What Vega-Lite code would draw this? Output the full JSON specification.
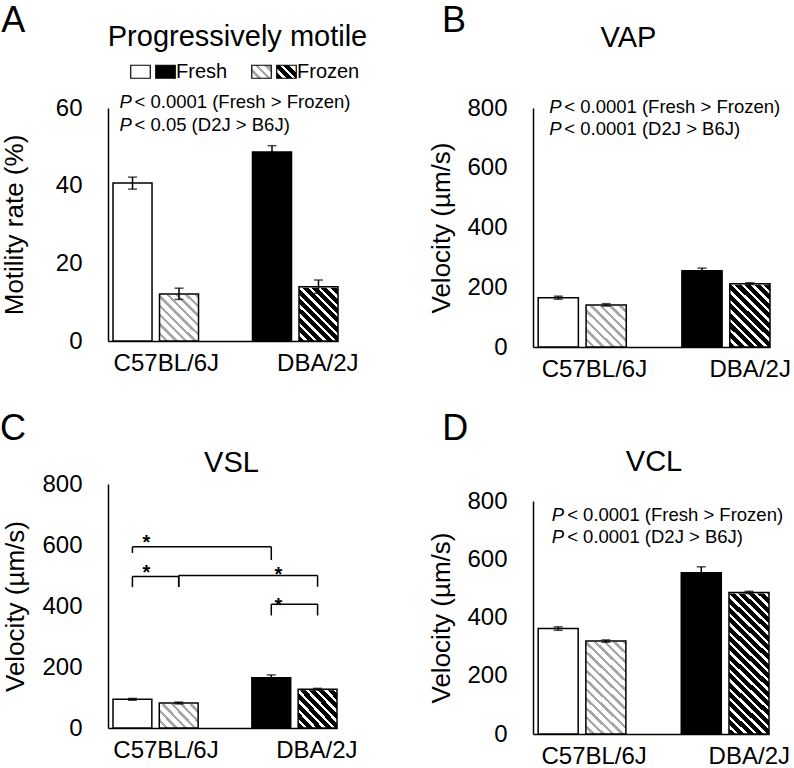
{
  "$schema": "https://vega.github.io/schema/vega-lite/v6.json",
  "padding": {"left": -1, "top": 3, "right": 0, "bottom": 0},
  "params": [
    {"name": "hatchBlack", "value": {"gradient": "linear", "x1": 0, "y1": 1, "x2": 0.13, "y2": 0.22, "stops": [
      {"offset":0,"color":"#000"},{"offset":0.032,"color":"#000"},{"offset":0.032,"color":"#fff"},{"offset":0.05,"color":"#fff"},
      {"offset":0.05,"color":"#000"},{"offset":0.082,"color":"#000"},{"offset":0.082,"color":"#fff"},{"offset":0.1,"color":"#fff"},
      {"offset":0.1,"color":"#000"},{"offset":0.132,"color":"#000"},{"offset":0.132,"color":"#fff"},{"offset":0.15,"color":"#fff"},
      {"offset":0.15,"color":"#000"},{"offset":0.182,"color":"#000"},{"offset":0.182,"color":"#fff"},{"offset":0.2,"color":"#fff"},
      {"offset":0.2,"color":"#000"},{"offset":0.232,"color":"#000"},{"offset":0.232,"color":"#fff"},{"offset":0.25,"color":"#fff"},
      {"offset":0.25,"color":"#000"},{"offset":0.282,"color":"#000"},{"offset":0.282,"color":"#fff"},{"offset":0.3,"color":"#fff"},
      {"offset":0.3,"color":"#000"},{"offset":0.332,"color":"#000"},{"offset":0.332,"color":"#fff"},{"offset":0.35,"color":"#fff"},
      {"offset":0.35,"color":"#000"},{"offset":0.382,"color":"#000"},{"offset":0.382,"color":"#fff"},{"offset":0.4,"color":"#fff"},
      {"offset":0.4,"color":"#000"},{"offset":0.432,"color":"#000"},{"offset":0.432,"color":"#fff"},{"offset":0.45,"color":"#fff"},
      {"offset":0.45,"color":"#000"},{"offset":0.482,"color":"#000"},{"offset":0.482,"color":"#fff"},{"offset":0.5,"color":"#fff"},
      {"offset":0.5,"color":"#000"},{"offset":0.532,"color":"#000"},{"offset":0.532,"color":"#fff"},{"offset":0.55,"color":"#fff"},
      {"offset":0.55,"color":"#000"},{"offset":0.582,"color":"#000"},{"offset":0.582,"color":"#fff"},{"offset":0.6,"color":"#fff"},
      {"offset":0.6,"color":"#000"},{"offset":0.632,"color":"#000"},{"offset":0.632,"color":"#fff"},{"offset":0.65,"color":"#fff"},
      {"offset":0.65,"color":"#000"},{"offset":0.682,"color":"#000"},{"offset":0.682,"color":"#fff"},{"offset":0.7,"color":"#fff"},
      {"offset":0.7,"color":"#000"},{"offset":0.732,"color":"#000"},{"offset":0.732,"color":"#fff"},{"offset":0.75,"color":"#fff"},
      {"offset":0.75,"color":"#000"},{"offset":0.782,"color":"#000"},{"offset":0.782,"color":"#fff"},{"offset":0.8,"color":"#fff"},
      {"offset":0.8,"color":"#000"},{"offset":0.832,"color":"#000"},{"offset":0.832,"color":"#fff"},{"offset":0.85,"color":"#fff"},
      {"offset":0.85,"color":"#000"},{"offset":0.882,"color":"#000"},{"offset":0.882,"color":"#fff"},{"offset":0.9,"color":"#fff"},
      {"offset":0.9,"color":"#000"},{"offset":0.932,"color":"#000"},{"offset":0.932,"color":"#fff"},{"offset":0.95,"color":"#fff"},
      {"offset":0.95,"color":"#000"},{"offset":0.982,"color":"#000"},{"offset":0.982,"color":"#fff"},{"offset":1,"color":"#fff"}
    ]}},
    {"name": "hatchGray", "value": {"gradient": "linear", "x1": 0, "y1": 1, "x2": 0.13, "y2": 0.22, "stops": [
      {"offset":0,"color":"#fff"},{"offset":0.032,"color":"#fff"},{"offset":0.032,"color":"#a8a8a8"},{"offset":0.05,"color":"#a8a8a8"},
      {"offset":0.05,"color":"#fff"},{"offset":0.082,"color":"#fff"},{"offset":0.082,"color":"#a8a8a8"},{"offset":0.1,"color":"#a8a8a8"},
      {"offset":0.1,"color":"#fff"},{"offset":0.132,"color":"#fff"},{"offset":0.132,"color":"#a8a8a8"},{"offset":0.15,"color":"#a8a8a8"},
      {"offset":0.15,"color":"#fff"},{"offset":0.182,"color":"#fff"},{"offset":0.182,"color":"#a8a8a8"},{"offset":0.2,"color":"#a8a8a8"},
      {"offset":0.2,"color":"#fff"},{"offset":0.232,"color":"#fff"},{"offset":0.232,"color":"#a8a8a8"},{"offset":0.25,"color":"#a8a8a8"},
      {"offset":0.25,"color":"#fff"},{"offset":0.282,"color":"#fff"},{"offset":0.282,"color":"#a8a8a8"},{"offset":0.3,"color":"#a8a8a8"},
      {"offset":0.3,"color":"#fff"},{"offset":0.332,"color":"#fff"},{"offset":0.332,"color":"#a8a8a8"},{"offset":0.35,"color":"#a8a8a8"},
      {"offset":0.35,"color":"#fff"},{"offset":0.382,"color":"#fff"},{"offset":0.382,"color":"#a8a8a8"},{"offset":0.4,"color":"#a8a8a8"},
      {"offset":0.4,"color":"#fff"},{"offset":0.432,"color":"#fff"},{"offset":0.432,"color":"#a8a8a8"},{"offset":0.45,"color":"#a8a8a8"},
      {"offset":0.45,"color":"#fff"},{"offset":0.482,"color":"#fff"},{"offset":0.482,"color":"#a8a8a8"},{"offset":0.5,"color":"#a8a8a8"},
      {"offset":0.5,"color":"#fff"},{"offset":0.532,"color":"#fff"},{"offset":0.532,"color":"#a8a8a8"},{"offset":0.55,"color":"#a8a8a8"},
      {"offset":0.55,"color":"#fff"},{"offset":0.582,"color":"#fff"},{"offset":0.582,"color":"#a8a8a8"},{"offset":0.6,"color":"#a8a8a8"},
      {"offset":0.6,"color":"#fff"},{"offset":0.632,"color":"#fff"},{"offset":0.632,"color":"#a8a8a8"},{"offset":0.65,"color":"#a8a8a8"},
      {"offset":0.65,"color":"#fff"},{"offset":0.682,"color":"#fff"},{"offset":0.682,"color":"#a8a8a8"},{"offset":0.7,"color":"#a8a8a8"},
      {"offset":0.7,"color":"#fff"},{"offset":0.732,"color":"#fff"},{"offset":0.732,"color":"#a8a8a8"},{"offset":0.75,"color":"#a8a8a8"},
      {"offset":0.75,"color":"#fff"},{"offset":0.782,"color":"#fff"},{"offset":0.782,"color":"#a8a8a8"},{"offset":0.8,"color":"#a8a8a8"},
      {"offset":0.8,"color":"#fff"},{"offset":0.832,"color":"#fff"},{"offset":0.832,"color":"#a8a8a8"},{"offset":0.85,"color":"#a8a8a8"},
      {"offset":0.85,"color":"#fff"},{"offset":0.882,"color":"#fff"},{"offset":0.882,"color":"#a8a8a8"},{"offset":0.9,"color":"#a8a8a8"},
      {"offset":0.9,"color":"#fff"},{"offset":0.932,"color":"#fff"},{"offset":0.932,"color":"#a8a8a8"},{"offset":0.95,"color":"#a8a8a8"},
      {"offset":0.95,"color":"#fff"},{"offset":0.982,"color":"#fff"},{"offset":0.982,"color":"#a8a8a8"},{"offset":1,"color":"#a8a8a8"}
    ]}},
    {"name": "legBlack", "value": {"gradient": "linear", "x1": 0, "y1": 1, "x2": 1.0123, "y2": 0.3251, "stops": [
      {"offset":0,"color":"#000"},{"offset":0.2133,"color":"#000"},{"offset":0.2133,"color":"#fff"},{"offset":0.3333,"color":"#fff"},
      {"offset":0.3333,"color":"#000"},{"offset":0.5467,"color":"#000"},{"offset":0.5467,"color":"#fff"},{"offset":0.6667,"color":"#fff"},
      {"offset":0.6667,"color":"#000"},{"offset":0.88,"color":"#000"},{"offset":0.88,"color":"#fff"},{"offset":1,"color":"#fff"}
    ]}},
    {"name": "legGray", "value": {"gradient": "linear", "x1": 0, "y1": 1, "x2": 1.0123, "y2": 0.3251, "stops": [
      {"offset":0,"color":"#fff"},{"offset":0.2133,"color":"#fff"},{"offset":0.2133,"color":"#a8a8a8"},{"offset":0.3333,"color":"#a8a8a8"},
      {"offset":0.3333,"color":"#fff"},{"offset":0.5467,"color":"#fff"},{"offset":0.5467,"color":"#a8a8a8"},{"offset":0.6667,"color":"#a8a8a8"},
      {"offset":0.6667,"color":"#fff"},{"offset":0.88,"color":"#fff"},{"offset":0.88,"color":"#a8a8a8"},{"offset":1,"color":"#a8a8a8"}
    ]}}
  ],
  "config": {
    "font": "Liberation Sans",
    "view": {"stroke": null},
    "axis": {"domainColor": "#000", "domainWidth": 1.5, "ticks": false, "grid": false, "labelColor": "#000", "titleColor": "#000", "titleFontWeight": "normal"},
    "axisY": {"labelFontSize": 24, "labelPadding": 26, "titleFontSize": 26},
    "axisX": {"labelFontSize": 24, "labelPadding": 10, "labelAngle": 0},
    "title": {"fontWeight": "normal", "color": "#000", "fontSize": 29}
  },
  "datasets": {
    "A": [
      {"group": "C57BL/6J Fresh", "strain": "C57BL/6J", "cond": "Fresh", "value": 40.7, "lo": 39.1, "hi": 42.2},
      {"group": "C57BL/6J Frozen", "strain": "C57BL/6J", "cond": "Frozen", "value": 12.1, "lo": 10.7, "hi": 13.6},
      {"group": "DBA/2J Fresh", "strain": "DBA/2J", "cond": "Fresh", "value": 48.7, "lo": 47.2, "hi": 50.3},
      {"group": "DBA/2J Frozen", "strain": "DBA/2J", "cond": "Frozen", "value": 14.0, "lo": 12.3, "hi": 15.7}
    ],
    "B": [
      {"group": "C57BL/6J Fresh", "strain": "C57BL/6J", "cond": "Fresh", "value": 165, "lo": 160, "hi": 170},
      {"group": "C57BL/6J Frozen", "strain": "C57BL/6J", "cond": "Frozen", "value": 141, "lo": 137, "hi": 145},
      {"group": "DBA/2J Fresh", "strain": "DBA/2J", "cond": "Fresh", "value": 255, "lo": 246, "hi": 264},
      {"group": "DBA/2J Frozen", "strain": "DBA/2J", "cond": "Frozen", "value": 212, "lo": 209, "hi": 215}
    ],
    "C": [
      {"group": "C57BL/6J Fresh", "strain": "C57BL/6J", "cond": "Fresh", "value": 94, "lo": 91, "hi": 97},
      {"group": "C57BL/6J Frozen", "strain": "C57BL/6J", "cond": "Frozen", "value": 82, "lo": 79, "hi": 85},
      {"group": "DBA/2J Fresh", "strain": "DBA/2J", "cond": "Fresh", "value": 165, "lo": 156, "hi": 174},
      {"group": "DBA/2J Frozen", "strain": "DBA/2J", "cond": "Frozen", "value": 127, "lo": 124, "hi": 130}
    ],
    "D": [
      {"group": "C57BL/6J Fresh", "strain": "C57BL/6J", "cond": "Fresh", "value": 362, "lo": 356, "hi": 368},
      {"group": "C57BL/6J Frozen", "strain": "C57BL/6J", "cond": "Frozen", "value": 319, "lo": 315, "hi": 323},
      {"group": "DBA/2J Fresh", "strain": "DBA/2J", "cond": "Fresh", "value": 554, "lo": 534, "hi": 574},
      {"group": "DBA/2J Frozen", "strain": "DBA/2J", "cond": "Frozen", "value": 486, "lo": 482, "hi": 490}
    ],
    "brC": [
      {"a": "C57BL/6J Fresh", "b": "DBA/2J Fresh", "top": 594, "legA": 574, "legB": 551, "star": "C57BL/6J Fresh", "starY": 587},
      {"a": "C57BL/6J Fresh", "b": "C57BL/6J Frozen", "top": 497, "legA": 462, "legB": 462, "star": "C57BL/6J Fresh", "starY": 487},
      {"a": "C57BL/6J Frozen", "b": "DBA/2J Frozen", "top": 500, "legA": 463, "legB": 463, "star": "DBA/2J Fresh", "starY": 483},
      {"a": "DBA/2J Fresh", "b": "DBA/2J Frozen", "top": 406, "legA": 369, "legB": 369, "star": "DBA/2J Fresh", "starY": 381}
    ]
  },
  "columns": 2,
  "align": "none",
  "spacing": {"row": 30, "column": 60},
  "resolve": {"scale": {"fill": "independent"}, "legend": {"fill": "independent"}},
  "concat": [
    {
      "title": {"text": "A", "anchor": "start", "frame": "bounds", "fontSize": 36, "offset": -17, "dx": 0},
      "resolve": {"scale": {"fill": "independent"}, "legend": {"fill": "independent"}},
      "vconcat": [
        {
          "width": 230, "height": 233,
          "title": {"text": "Progressively motile", "frame": "group", "anchor": "middle", "dx": 14.5, "offset": 9},
          "data": {"name": "A"},
          "layer": [
            {"transform": [{"filter": "datum.cond == 'Frozen' && datum.strain == 'C57BL/6J'"}], "mark": {"type": "bar", "fill": {"expr": "hatchGray"}}, "encoding": {"x": {"field": "group", "type": "nominal"}, "y": {"datum": 60, "type": "quantitative"}, "y2": {"datum": 0}}},
            {"transform": [{"filter": "datum.cond == 'Frozen' && datum.strain == 'DBA/2J'"}], "mark": {"type": "bar", "fill": {"expr": "hatchBlack"}}, "encoding": {"x": {"field": "group", "type": "nominal"}, "y": {"datum": 60, "type": "quantitative"}, "y2": {"datum": 0}}},
            {"transform": [{"filter": "datum.cond == 'Frozen'"}], "mark": {"type": "bar", "fill": "#fff", "stroke": "#fff", "strokeWidth": 2}, "encoding": {"x": {"field": "group", "type": "nominal"}, "y": {"field": "value", "type": "quantitative"}, "y2": {"datum": 60}}},
            {"mark": {"type": "bar", "stroke": "#000", "strokeWidth": 1.5},
             "encoding": {
               "x": {"field": "group", "type": "nominal",
                     "scale": {"type": "band", "domain": ["C57BL/6J Fresh", "C57BL/6J Frozen", "gap", "DBA/2J Fresh", "DBA/2J Frozen"], "paddingInner": 0.161, "paddingOuter": 0.054, "align": 1},
                     "axis": {"title": null, "labelAlign": "right", "labelOffset": 40, "labelExpr": "datum.value == 'C57BL/6J Frozen' ? 'C57BL/6J' : datum.value == 'DBA/2J Frozen' ? 'DBA/2J' : ''"}},
               "y": {"field": "value", "type": "quantitative", "scale": {"domain": [0, 60], "nice": false},
                     "axis": {"title": "Motility rate (%)", "values": [0, 20, 40, 60], "titlePadding": 28}},
               "fill": {"field": "group", "type": "nominal",
                        "scale": {"domain": ["C57BL/6J Fresh", "DBA/2J Fresh", "C57BL/6J Frozen", "DBA/2J Frozen"], "range": ["#fff", "#000", {"expr": "legGray"}, {"expr": "legBlack"}]},
                        "legend": {"title": null, "orient": "none", "legendX": 22, "legendY": -47, "direction": "horizontal", "symbolType": "M-1,-0.667H1V0.667H-1Z", "symbolSize": 380, "symbolStrokeColor": "#000", "symbolStrokeWidth": 1.2, "labelFontSize": 20, "labelOffset": 0, "columnPadding": 0, "padding": 0, "labelColor": "#000",
                                   "labelExpr": "datum.value == 'DBA/2J Fresh' ? 'Fresh' : datum.value == 'DBA/2J Frozen' ? 'Frozen' : ''",
                                   "encode": {
                                     "symbols": {"update": {"shape": {"signal": "datum.value == 'C57BL/6J Frozen' ? 'M1.36,-0.667H3.36V0.667H1.36Z' : 'M-1,-0.667H1V0.667H-1Z'"}}}
                                   }},
                        "condition": {"test": "datum.cond == 'Frozen'", "value": "transparent"}}
             }},
            {"mark": {"type": "rule", "stroke": "#000", "strokeWidth": 1.5}, "encoding": {"x": {"field": "group", "type": "nominal"}, "y": {"field": "lo", "type": "quantitative"}, "y2": {"field": "hi"}}},
            {"mark": {"type": "tick", "color": "#000", "thickness": 1.5, "size": 9, "orient": "horizontal"}, "encoding": {"x": {"field": "group", "type": "nominal"}, "y": {"field": "hi", "type": "quantitative"}}},
            {"mark": {"type": "tick", "color": "#000", "thickness": 1.5, "size": 9, "orient": "horizontal"}, "encoding": {"x": {"field": "group", "type": "nominal"}, "y": {"field": "lo", "type": "quantitative"}}},
            {"data": {"values": [{}]}, "mark": {"type": "text", "text": ["P", "P"], "fontStyle": "italic", "fontSize": 18.5, "align": "left", "baseline": "alphabetic", "lineHeight": 22.7, "dx": -13, "color": "#000"}, "encoding": {"x": {"datum": "C57BL/6J Fresh", "type": "nominal"}, "y": {"datum": 60, "type": "quantitative"}}},
            {"data": {"values": [{}]}, "mark": {"type": "text", "text": ["< 0.0001 (Fresh > Frozen)", "< 0.05 (D2J > B6J)"], "fontSize": 18.5, "align": "left", "baseline": "alphabetic", "lineHeight": 22.7, "dx": 2, "color": "#000"}, "encoding": {"x": {"datum": "C57BL/6J Fresh", "type": "nominal"}, "y": {"datum": 60, "type": "quantitative"}}}
          ]
        }
      ]
    },
    {
      "title": {"text": "B", "anchor": "start", "frame": "bounds", "fontSize": 36, "offset": -16, "dx": 13},
      "resolve": {"scale": {"fill": "independent"}, "legend": {"fill": "independent"}},
      "vconcat": [
        {
          "width": 237, "height": 239,
          "title": {"text": "VAP", "frame": "group", "anchor": "middle", "dx": -23, "offset": 43},
          "data": {"name": "B"},
          "layer": [
            {"transform": [{"filter": "datum.cond == 'Frozen' && datum.strain == 'C57BL/6J'"}], "mark": {"type": "bar", "fill": {"expr": "hatchGray"}}, "encoding": {"x": {"field": "group", "type": "nominal"}, "y": {"datum": 800, "type": "quantitative"}, "y2": {"datum": 0}}},
            {"transform": [{"filter": "datum.cond == 'Frozen' && datum.strain == 'DBA/2J'"}], "mark": {"type": "bar", "fill": {"expr": "hatchBlack"}}, "encoding": {"x": {"field": "group", "type": "nominal"}, "y": {"datum": 800, "type": "quantitative"}, "y2": {"datum": 0}}},
            {"transform": [{"filter": "datum.cond == 'Frozen'"}], "mark": {"type": "bar", "fill": "#fff", "stroke": "#fff", "strokeWidth": 2}, "encoding": {"x": {"field": "group", "type": "nominal"}, "y": {"field": "value", "type": "quantitative"}, "y2": {"datum": 800}}},
            {"mark": {"type": "bar", "stroke": "#000", "strokeWidth": 1.5},
             "encoding": {
               "x": {"field": "group", "type": "nominal",
                     "scale": {"type": "band", "domain": ["C57BL/6J Fresh", "C57BL/6J Frozen", "gap", "DBA/2J Fresh", "DBA/2J Frozen"], "paddingInner": 0.161, "paddingOuter": 0.054, "align": 1},
                     "axis": {"title": null, "labelAlign": "right", "labelOffset": 41, "labelExpr": "datum.value == 'C57BL/6J Frozen' ? 'C57BL/6J' : datum.value == 'DBA/2J Frozen' ? 'DBA/2J' : ''"}},
               "y": {"field": "value", "type": "quantitative", "scale": {"domain": [0, 800], "nice": false},
                     "axis": {"title": "Velocity (µm/s)", "values": [0, 200, 400, 600, 800], "titlePadding": 12}},
               "fill": {"field": "group", "type": "nominal",
                        "scale": {"domain": ["C57BL/6J Fresh", "DBA/2J Fresh", "C57BL/6J Frozen", "DBA/2J Frozen"], "range": ["#fff", "#000", {"expr": "legGray"}, {"expr": "legBlack"}]},
                        "legend": null,
                        "condition": {"test": "datum.cond == 'Frozen'", "value": "transparent"}}
             }},
            {"mark": {"type": "rule", "stroke": "#000", "strokeWidth": 1.5}, "encoding": {"x": {"field": "group", "type": "nominal"}, "y": {"field": "lo", "type": "quantitative"}, "y2": {"field": "hi"}}},
            {"mark": {"type": "tick", "color": "#000", "thickness": 1.5, "size": 9, "orient": "horizontal"}, "encoding": {"x": {"field": "group", "type": "nominal"}, "y": {"field": "hi", "type": "quantitative"}}},
            {"mark": {"type": "tick", "color": "#000", "thickness": 1.5, "size": 9, "orient": "horizontal"}, "encoding": {"x": {"field": "group", "type": "nominal"}, "y": {"field": "lo", "type": "quantitative"}}},
            {"data": {"values": [{}]}, "mark": {"type": "text", "text": ["P", "P"], "fontStyle": "italic", "fontSize": 18.5, "align": "left", "baseline": "alphabetic", "lineHeight": 21.7, "dx": -9, "color": "#000"}, "encoding": {"x": {"datum": "C57BL/6J Fresh", "type": "nominal"}, "y": {"datum": 783, "type": "quantitative"}}},
            {"data": {"values": [{}]}, "mark": {"type": "text", "text": ["< 0.0001 (Fresh > Frozen)", "< 0.0001 (D2J > B6J)"], "fontSize": 18.5, "align": "left", "baseline": "alphabetic", "lineHeight": 21.7, "dx": 6, "color": "#000"}, "encoding": {"x": {"datum": "C57BL/6J Fresh", "type": "nominal"}, "y": {"datum": 783, "type": "quantitative"}}}
          ]
        }
      ]
    },
    {
      "title": {"text": "C", "anchor": "start", "frame": "bounds", "fontSize": 36, "offset": 1, "dx": -3},
      "resolve": {"scale": {"fill": "independent"}, "legend": {"fill": "independent"}},
      "vconcat": [
        {
          "width": 229, "height": 244,
          "title": {"text": "VSL", "frame": "group", "anchor": "middle", "dx": 9, "offset": -6},
          "data": {"name": "C"},
          "layer": [
            {"transform": [{"filter": "datum.cond == 'Frozen' && datum.strain == 'C57BL/6J'"}], "mark": {"type": "bar", "fill": {"expr": "hatchGray"}}, "encoding": {"x": {"field": "group", "type": "nominal"}, "y": {"datum": 800, "type": "quantitative"}, "y2": {"datum": 0}}},
            {"transform": [{"filter": "datum.cond == 'Frozen' && datum.strain == 'DBA/2J'"}], "mark": {"type": "bar", "fill": {"expr": "hatchBlack"}}, "encoding": {"x": {"field": "group", "type": "nominal"}, "y": {"datum": 800, "type": "quantitative"}, "y2": {"datum": 0}}},
            {"transform": [{"filter": "datum.cond == 'Frozen'"}], "mark": {"type": "bar", "fill": "#fff", "stroke": "#fff", "strokeWidth": 2}, "encoding": {"x": {"field": "group", "type": "nominal"}, "y": {"field": "value", "type": "quantitative"}, "y2": {"datum": 800}}},
            {"mark": {"type": "bar", "stroke": "#000", "strokeWidth": 1.5},
             "encoding": {
               "x": {"field": "group", "type": "nominal",
                     "scale": {"type": "band", "domain": ["C57BL/6J Fresh", "C57BL/6J Frozen", "gap", "DBA/2J Fresh", "DBA/2J Frozen"], "paddingInner": 0.161, "paddingOuter": 0.054, "align": 1},
                     "axis": {"title": null, "labelAlign": "right", "labelOffset": 40, "labelExpr": "datum.value == 'C57BL/6J Frozen' ? 'C57BL/6J' : datum.value == 'DBA/2J Frozen' ? 'DBA/2J' : ''"}},
               "y": {"field": "value", "type": "quantitative", "scale": {"domain": [0, 800], "nice": false},
                     "axis": {"title": "Velocity (µm/s)", "values": [0, 200, 400, 600, 800], "titlePadding": 13}},
               "fill": {"field": "group", "type": "nominal",
                        "scale": {"domain": ["C57BL/6J Fresh", "DBA/2J Fresh", "C57BL/6J Frozen", "DBA/2J Frozen"], "range": ["#fff", "#000", {"expr": "legGray"}, {"expr": "legBlack"}]},
                        "legend": null,
                        "condition": {"test": "datum.cond == 'Frozen'", "value": "transparent"}}
             }},
            {"mark": {"type": "rule", "stroke": "#000", "strokeWidth": 1.5}, "encoding": {"x": {"field": "group", "type": "nominal"}, "y": {"field": "lo", "type": "quantitative"}, "y2": {"field": "hi"}}},
            {"mark": {"type": "tick", "color": "#000", "thickness": 1.5, "size": 9, "orient": "horizontal"}, "encoding": {"x": {"field": "group", "type": "nominal"}, "y": {"field": "hi", "type": "quantitative"}}},
            {"mark": {"type": "tick", "color": "#000", "thickness": 1.5, "size": 9, "orient": "horizontal"}, "encoding": {"x": {"field": "group", "type": "nominal"}, "y": {"field": "lo", "type": "quantitative"}}},
            {"data": {"name": "brC"}, "mark": {"type": "rule", "stroke": "#000", "strokeWidth": 1.5}, "encoding": {"x": {"field": "a", "type": "nominal"}, "x2": {"field": "b"}, "y": {"field": "top", "type": "quantitative"}}},
            {"data": {"name": "brC"}, "mark": {"type": "rule", "stroke": "#000", "strokeWidth": 1.5}, "encoding": {"x": {"field": "a", "type": "nominal"}, "y": {"field": "top", "type": "quantitative"}, "y2": {"field": "legA"}}},
            {"data": {"name": "brC"}, "mark": {"type": "rule", "stroke": "#000", "strokeWidth": 1.5}, "encoding": {"x": {"field": "b", "type": "nominal"}, "y": {"field": "top", "type": "quantitative"}, "y2": {"field": "legB"}}},
            {"data": {"name": "brC"}, "transform": [{"filter": "datum.star == 'C57BL/6J Fresh'"}], "mark": {"type": "text", "text": "*", "fontSize": 20, "fontWeight": "bold", "dx": 14, "baseline": "alphabetic", "color": "#000"}, "encoding": {"x": {"field": "star", "type": "nominal"}, "y": {"field": "starY", "type": "quantitative"}}},
            {"data": {"name": "brC"}, "transform": [{"filter": "datum.star == 'DBA/2J Fresh'"}], "mark": {"type": "text", "text": "*", "fontSize": 20, "fontWeight": "bold", "dx": 7, "baseline": "alphabetic", "color": "#000"}, "encoding": {"x": {"field": "star", "type": "nominal"}, "y": {"field": "starY", "type": "quantitative"}}}
          ]
        }
      ]
    },
    {
      "title": {"text": "D", "anchor": "start", "frame": "bounds", "fontSize": 36, "offset": 0, "dx": 14},
      "resolve": {"scale": {"fill": "independent"}, "legend": {"fill": "independent"}},
      "vconcat": [
        {
          "width": 236, "height": 233,
          "title": {"text": "VCL", "frame": "group", "anchor": "middle", "dx": 3, "offset": 12},
          "data": {"name": "D"},
          "layer": [
            {"transform": [{"filter": "datum.cond == 'Frozen' && datum.strain == 'C57BL/6J'"}], "mark": {"type": "bar", "fill": {"expr": "hatchGray"}}, "encoding": {"x": {"field": "group", "type": "nominal"}, "y": {"datum": 800, "type": "quantitative"}, "y2": {"datum": 0}}},
            {"transform": [{"filter": "datum.cond == 'Frozen' && datum.strain == 'DBA/2J'"}], "mark": {"type": "bar", "fill": {"expr": "hatchBlack"}}, "encoding": {"x": {"field": "group", "type": "nominal"}, "y": {"datum": 800, "type": "quantitative"}, "y2": {"datum": 0}}},
            {"transform": [{"filter": "datum.cond == 'Frozen'"}], "mark": {"type": "bar", "fill": "#fff", "stroke": "#fff", "strokeWidth": 2}, "encoding": {"x": {"field": "group", "type": "nominal"}, "y": {"field": "value", "type": "quantitative"}, "y2": {"datum": 800}}},
            {"mark": {"type": "bar", "stroke": "#000", "strokeWidth": 1.5},
             "encoding": {
               "x": {"field": "group", "type": "nominal",
                     "scale": {"type": "band", "domain": ["C57BL/6J Fresh", "C57BL/6J Frozen", "gap", "DBA/2J Fresh", "DBA/2J Frozen"], "paddingInner": 0.161, "paddingOuter": 0.054, "align": 1},
                     "axis": {"title": null, "labelAlign": "right", "labelOffset": 41, "labelExpr": "datum.value == 'C57BL/6J Frozen' ? 'C57BL/6J' : datum.value == 'DBA/2J Frozen' ? 'DBA/2J' : ''"}},
               "y": {"field": "value", "type": "quantitative", "scale": {"domain": [0, 800], "nice": false},
                     "axis": {"title": "Velocity (µm/s)", "values": [0, 200, 400, 600, 800], "titlePadding": 12.8}},
               "fill": {"field": "group", "type": "nominal",
                        "scale": {"domain": ["C57BL/6J Fresh", "DBA/2J Fresh", "C57BL/6J Frozen", "DBA/2J Frozen"], "range": ["#fff", "#000", {"expr": "legGray"}, {"expr": "legBlack"}]},
                        "legend": null,
                        "condition": {"test": "datum.cond == 'Frozen'", "value": "transparent"}}
             }},
            {"mark": {"type": "rule", "stroke": "#000", "strokeWidth": 1.5}, "encoding": {"x": {"field": "group", "type": "nominal"}, "y": {"field": "lo", "type": "quantitative"}, "y2": {"field": "hi"}}},
            {"mark": {"type": "tick", "color": "#000", "thickness": 1.5, "size": 9, "orient": "horizontal"}, "encoding": {"x": {"field": "group", "type": "nominal"}, "y": {"field": "hi", "type": "quantitative"}}},
            {"mark": {"type": "tick", "color": "#000", "thickness": 1.5, "size": 9, "orient": "horizontal"}, "encoding": {"x": {"field": "group", "type": "nominal"}, "y": {"field": "lo", "type": "quantitative"}}},
            {"data": {"values": [{}]}, "mark": {"type": "text", "text": ["P", "P"], "fontStyle": "italic", "fontSize": 18.5, "align": "left", "baseline": "alphabetic", "lineHeight": 22.7, "dx": -6.5, "color": "#000"}, "encoding": {"x": {"datum": "C57BL/6J Fresh", "type": "nominal"}, "y": {"datum": 733, "type": "quantitative"}}},
            {"data": {"values": [{}]}, "mark": {"type": "text", "text": ["< 0.0001 (Fresh > Frozen)", "< 0.0001 (D2J > B6J)"], "fontSize": 18.5, "align": "left", "baseline": "alphabetic", "lineHeight": 22.7, "dx": 9, "color": "#000"}, "encoding": {"x": {"datum": "C57BL/6J Fresh", "type": "nominal"}, "y": {"datum": 733, "type": "quantitative"}}}
          ]
        }
      ]
    }
  ]
}
